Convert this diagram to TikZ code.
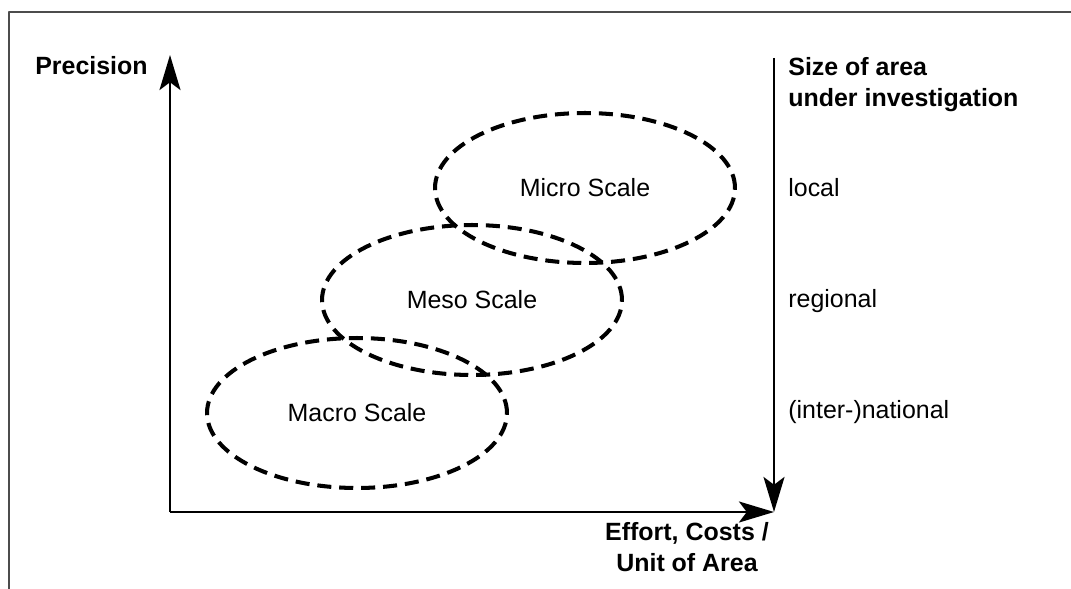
\documentclass[tikz,border=0pt]{standalone}
\usepackage{fontspec}
\setmainfont{Liberation Sans}
\usetikzlibrary{arrows.meta,shapes.geometric}
\begin{document}
\begin{tikzpicture}[x=0.02cm,y=-0.02cm,line join=round,
	>={Stealth[length=20pt,width=12pt,inset=4.5pt]},
	font=\fontsize{14.2}{17.5}\selectfont]
	\tikzset{
		axis/.style={line width=1.1pt},
		scalebox/.style={ellipse,draw,line width=2.3pt,dash pattern=on 8pt off 4.5pt,
			minimum width=6cm,minimum height=3cm,inner sep=0pt},
		heading/.style={font=\fontsize{14.2}{17.5}\selectfont\bfseries,inner sep=0pt},
		level/.style={anchor=base west,inner sep=0pt}
	}
	\useasboundingbox (0,0) rectangle (1071,588);
	\draw[line width=1.1pt,black!70] (9,600)--(9,12)--(1080,12);
	% axes
	\coordinate (origin) at (170,512);
	\coordinate (ytop) at (170,55);
	\coordinate (xend) at (774,512);
	\coordinate (rtop) at (774,58);
	\draw[axis,->] (origin)--(ytop);
	\draw[axis,->] (origin)--(xend);
	\draw[axis,->] (rtop)--(xend);
	\node[heading,anchor=base east] (prec) at (148,75) {Precision};
	\node[heading,anchor=north,align=center] (effort) at (687,522) {Effort, Costs /\\Unit of Area};
	\node[heading,anchor=north west,align=left] (size) at (788,57) {Size of area\\under investigation};
	% scales
	\node[scalebox] (macro) at (357,413) {Macro Scale};
	\node[scalebox] (meso) at (472,300) {Meso Scale};
	\node[scalebox] (micro) at (585,188) {Micro Scale};
	\node[level] (local) at (788,196) {local};
	\node[level] (regional) at (788,307) {regional};
	\node[level] (national) at (788,418) {(inter-)national};
\end{tikzpicture}
\end{document}
